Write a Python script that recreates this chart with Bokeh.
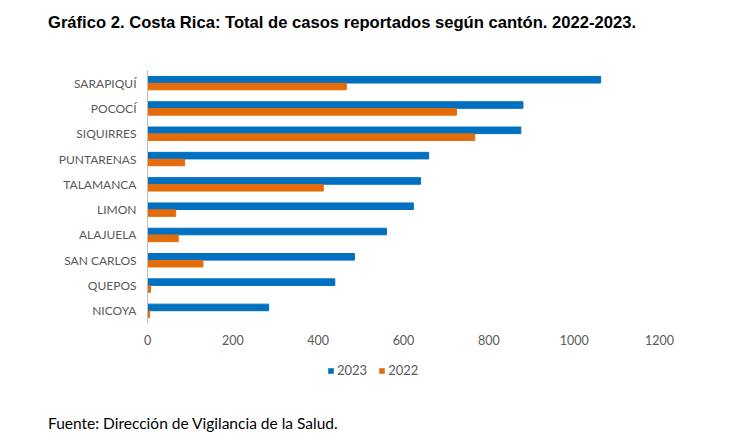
from bokeh.plotting import figure
from bokeh.layouts import column
from bokeh.models import (FactorRange, Range1d, Legend, LegendItem, FixedTicker,
                          ColumnDataSource, Div)
from bokeh.transform import dodge
from bokeh.embed import file_html
from bokeh.resources import INLINE

cantones = ["SARAPIQUÍ", "POCOCÍ", "SIQUIRRES", "PUNTARENAS", "TALAMANCA",
            "LIMON", "ALAJUELA", "SAN CARLOS", "QUEPOS", "NICOYA"]
casos_2023 = [1062, 880, 875, 659, 640, 623, 560, 485, 439, 284]
casos_2022 = [466, 724, 767, 87, 412, 66, 72, 130, 7, 5]
x_ticks = [0, 200, 400, 600, 800, 1000, 1200]
series_names = ["2023", "2022"]

TITLE = "Gráfico 2. Costa Rica: Total de casos reportados según cantón. 2022-2023."
SOURCE = "Fuente: Dirección de Vigilancia de la Salud."

BLUE = "#0070C0"
ORANGE = "#E46C0A"
GRAY = "#595959"
W = 745

# --- title
title_div = Div(
    text=('<div style="padding-left:48px;padding-top:13px;font-family:\'Liberation Sans\';'
          'font-weight:bold;font-size:16.6px;line-height:19px;color:#000;white-space:nowrap;">'
          + TITLE + '</div>'),
    width=W, height=60, margin=0)

# --- main chart
src = ColumnDataSource(dict(canton=cantones, c2023=casos_2023, c2022=casos_2022))
p1 = figure(width=W, height=292, output_backend="svg", toolbar_location=None,
            y_range=FactorRange(factors=list(reversed(cantones)), range_padding=0),
            x_range=Range1d(0, 1200), margin=0,
            min_border_left=147, min_border_right=86, min_border_top=10, min_border_bottom=29)
p1.outline_line_color = None
p1.xgrid.visible = False
p1.ygrid.visible = False

p1.hbar(y=dodge("canton", 0.135, range=p1.y_range), left=0, right="c2023", height=0.26,
        color=BLUE, source=src)
p1.hbar(y=dodge("canton", -0.135, range=p1.y_range), left=0, right="c2022", height=0.26,
        color=ORANGE, source=src)

p1.xaxis.ticker = FixedTicker(ticks=x_ticks)
p1.xaxis.axis_line_color = None
p1.xaxis.major_tick_line_color = None
p1.xaxis.minor_tick_line_color = None
p1.xaxis.major_label_standoff = 5
p1.xaxis.major_label_text_font = "Lato"
p1.xaxis.major_label_text_font_size = "12.5px"
p1.xaxis.major_label_text_color = GRAY

p1.yaxis.axis_line_color = "#BFBFBF"
p1.yaxis.major_tick_line_color = None
p1.yaxis.minor_tick_line_color = None
p1.yaxis.major_label_standoff = 5
p1.yaxis.major_label_text_font = "Lato"
p1.yaxis.major_label_text_font_size = "12px"
p1.yaxis.major_label_text_color = GRAY

# --- legend strip (swatches only; the strip's glyphs have zero height and lie outside its view)
H2 = 44
p2 = figure(width=W, height=H2, output_backend="svg", toolbar_location=None,
            x_range=Range1d(-2, -1), y_range=FactorRange(factors=list(reversed(cantones))),
            min_border=0, margin=0, x_axis_location=None, y_axis_location=None)
p2.outline_line_color = None
p2.xgrid.visible = False
p2.ygrid.visible = False
l23 = p2.hbar(y="canton", left=0, right="c2023", height=0, fill_color=BLUE, line_color=None,
              source=src)
l22 = p2.hbar(y="canton", left=0, right="c2022", height=0, fill_color=ORANGE, line_color=None,
              source=src)
legend = Legend(items=[LegendItem(label=series_names[0], renderers=[l23]),
                       LegendItem(label=series_names[1], renderers=[l22])],
                orientation="horizontal", location=(180, 16),
                glyph_width=7, glyph_height=7, label_standoff=3, spacing=11,
                label_height=20, label_width=10,
                padding=0, margin=0, border_line_color=None, background_fill_alpha=0,
                label_text_font="Lato", label_text_font_size="13px", label_text_color=GRAY)
p2.add_layout(legend)

# --- source note
foot_div = Div(
    text=('<div style="padding-left:48px;padding-top:18px;font-family:\'Lato\';'
          'font-size:15.5px;line-height:18px;color:#000;white-space:nowrap;">'
          + SOURCE + '</div>'),
    width=W, height=40, margin=0)

layout = column(title_div, p1, p2, foot_div, spacing=0, margin=0)
open("out.html", "w").write(file_html(layout, INLINE))
